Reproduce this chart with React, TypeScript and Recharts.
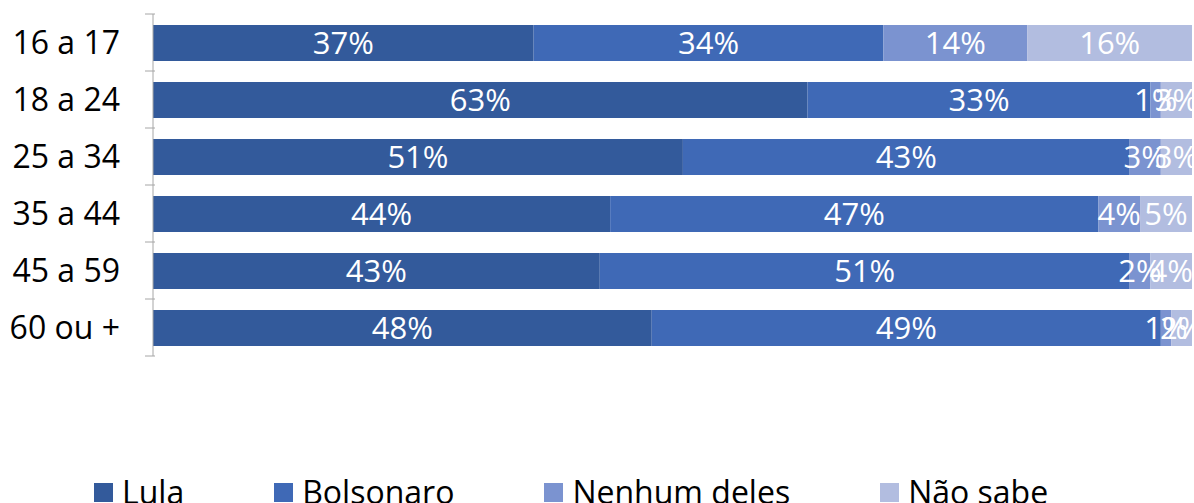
import { BarChart, Bar, XAxis, YAxis, LabelList } from "recharts";

const ageGroups = ["16 a 17", "18 a 24", "25 a 34", "35 a 44", "45 a 59", "60 ou +"];
const lula = [37, 63, 51, 44, 43, 48];
const bolsonaro = [34, 33, 43, 47, 51, 49];
const nenhum = [14, 1, 3, 4, 2, 1];
const naoSabe = [16, 3, 3, 5, 4, 2];

const SERIES = [
  { key: "lula", name: "Lula", color: "#335a9b" },
  { key: "bolsonaro", name: "Bolsonaro", color: "#3f69b6" },
  { key: "nenhum", name: "Nenhum deles", color: "#7b93d0" },
  { key: "naoSabe", name: "Não sabe", color: "#b2bde0" },
];

const data = ageGroups.map((name, i) => ({
  name,
  lula: lula[i],
  bolsonaro: bolsonaro[i],
  nenhum: nenhum[i],
  naoSabe: naoSabe[i],
}));

const FONT = "'Open Sans', 'DejaVu Sans', sans-serif";
const TOP = 14;
const PLOT_H = 342;
const BAND = PLOT_H / ageGroups.length;
const AXIS_GRAY = "#a6a6a6";

// Excel-style ticks sit on the category boundaries, not the band centres
const AgeTick = (props: any) => {
  const { x, y, payload, index } = props;
  const isLast = index === ageGroups.length - 1;
  return (
    <g>
      <line x1={x} x2={x + 10} y1={y - BAND / 2} y2={y - BAND / 2} stroke={AXIS_GRAY} />
      {isLast && (
        <line x1={x} x2={x + 10} y1={y + BAND / 2} y2={y + BAND / 2} stroke={AXIS_GRAY} />
      )}
      <text
        x={x - 25}
        y={y}
        dy={11}
        textAnchor="end"
        fontSize={32}
        fontFamily={FONT}
        fill="#000"
      >
        {payload.value}
      </text>
    </g>
  );
};

export default function App() {
  return (
    <div style={{ position: "absolute", left: 0, top: 0, width: 1194, height: 503, overflow: "hidden", background: "#fff" }}>
      <BarChart
        width={1194}
        height={503}
        data={data}
        layout="vertical"
        stackOffset="expand"
        margin={{ top: TOP, right: 2, bottom: 503 - TOP - PLOT_H, left: 0 }}
        barSize={36}
      >
        <XAxis type="number" hide domain={[0, 1]} />
        <YAxis
          type="category"
          dataKey="name"
          width={153}
          axisLine={{ stroke: AXIS_GRAY }}
          tickLine={false}
          tick={<AgeTick />}
          interval={0}
        />
        {SERIES.map(s => (
          <Bar
            key={s.key}
            dataKey={s.key}
            name={s.name}
            stackId="a"
            fill={s.color}
            isAnimationActive={false}
          >
            <LabelList
              dataKey={s.key}
              position="center"
              formatter={(v: any) => `${v}%`}
              fill="#fff"
              fontSize={31}
              fontFamily={FONT}
            />
          </Bar>
        ))}
      </BarChart>
      <div
        style={{
          position: "absolute",
          top: 472,
          left: 94,
          display: "flex",
          gap: 90,
          fontFamily: FONT,
        }}
      >
        {SERIES.map(s => (
          <div key={s.key} style={{ display: "flex", alignItems: "center", gap: 9 }}>
            <span style={{ width: 19, height: 19, background: s.color, display: "inline-block" }} />
            <span style={{ fontSize: 32, color: "#000", lineHeight: "40px" }}>{s.name}</span>
          </div>
        ))}
      </div>
    </div>
  );
}
